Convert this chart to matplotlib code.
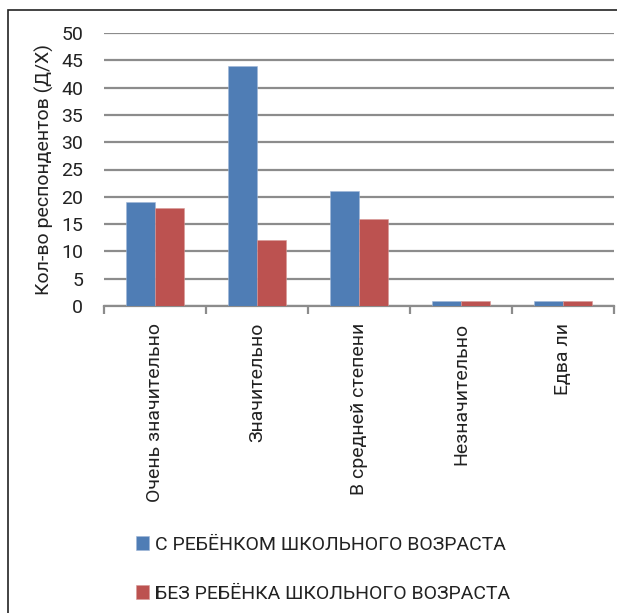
import numpy as np
import matplotlib.pyplot as plt
from matplotlib.patches import Rectangle

plt.rcParams['font.family'] = ['Roboto', 'DejaVu Sans']

categories = ['Очень значительно', 'Значительно', 'В средней степени', 'Незначительно', 'Едва ли']
with_child = [19, 44, 21, 1, 1]
without_child = [18, 12, 16, 1, 1]
series_names = ['С РЕБЁНКОМ ШКОЛЬНОГО ВОЗРАСТА', 'БЕЗ РЕБЁНКА ШКОЛЬНОГО ВОЗРАСТА']

blue = '#4F7DB5'
red = '#BC5250'
grid_c = '#8C8C8C'
fs = 14

fig = plt.figure(figsize=(6.17, 6.13), dpi=100)
ax = fig.add_axes([104 / 617, 307 / 613, 510 / 617, 273 / 613])

x = np.arange(len(categories))
w = 0.285
b1 = ax.bar(x - w / 2, with_child, w, color=blue, edgecolor='#9fb7d8', linewidth=0.4,
            label=series_names[0], zorder=3)
b2 = ax.bar(x + w / 2, without_child, w, color=red, edgecolor='#d69896', linewidth=0.4,
            label=series_names[1], zorder=3)

ax.set_xlim(-0.5, len(categories) - 0.5)
ax.set_ylim(0, 50)
ax.set_yticks(np.arange(0, 51, 5))
ax.yaxis.grid(True, color=grid_c, linewidth=1.6, zorder=0)
ax.set_axisbelow(True)

for s in ['top', 'right', 'left']:
    ax.spines[s].set_visible(False)
ax.spines['bottom'].set_color(grid_c)
ax.spines['bottom'].set_linewidth(1.6)

ax.set_xticks(x)
ax.set_xticklabels(categories, rotation=90, fontsize=fs, va='top', ha='center', color='#222222')
ax.tick_params(axis='x', length=0, pad=12)
ax.set_xticks(np.arange(-0.5, len(categories), 1), minor=True)
ax.tick_params(axis='x', which='minor', length=6, width=1.6, color=grid_c)
ax.tick_params(axis='y', length=0, labelsize=fs, pad=15, labelcolor='#222222')

ax.set_ylabel('Кол-во респондентов (Д/Х)', fontsize=fs, labelpad=5, color='#222222')

fig.legend(handles=[b1, b2], loc='upper left', bbox_to_anchor=(118 / 617, 1 - 518 / 613),
           frameon=False, fontsize=fs, handlelength=0.7, handleheight=0.7,
           handletextpad=0.3, labelspacing=1.6, labelcolor='#222222')

fig.patches.append(Rectangle((8 / 617, -0.1), 1.2, 1 - 10 / 613 + 0.1, transform=fig.transFigure,
                             fill=False, edgecolor='#222222', linewidth=1.2))

fig.savefig('out.png', dpi=100)
